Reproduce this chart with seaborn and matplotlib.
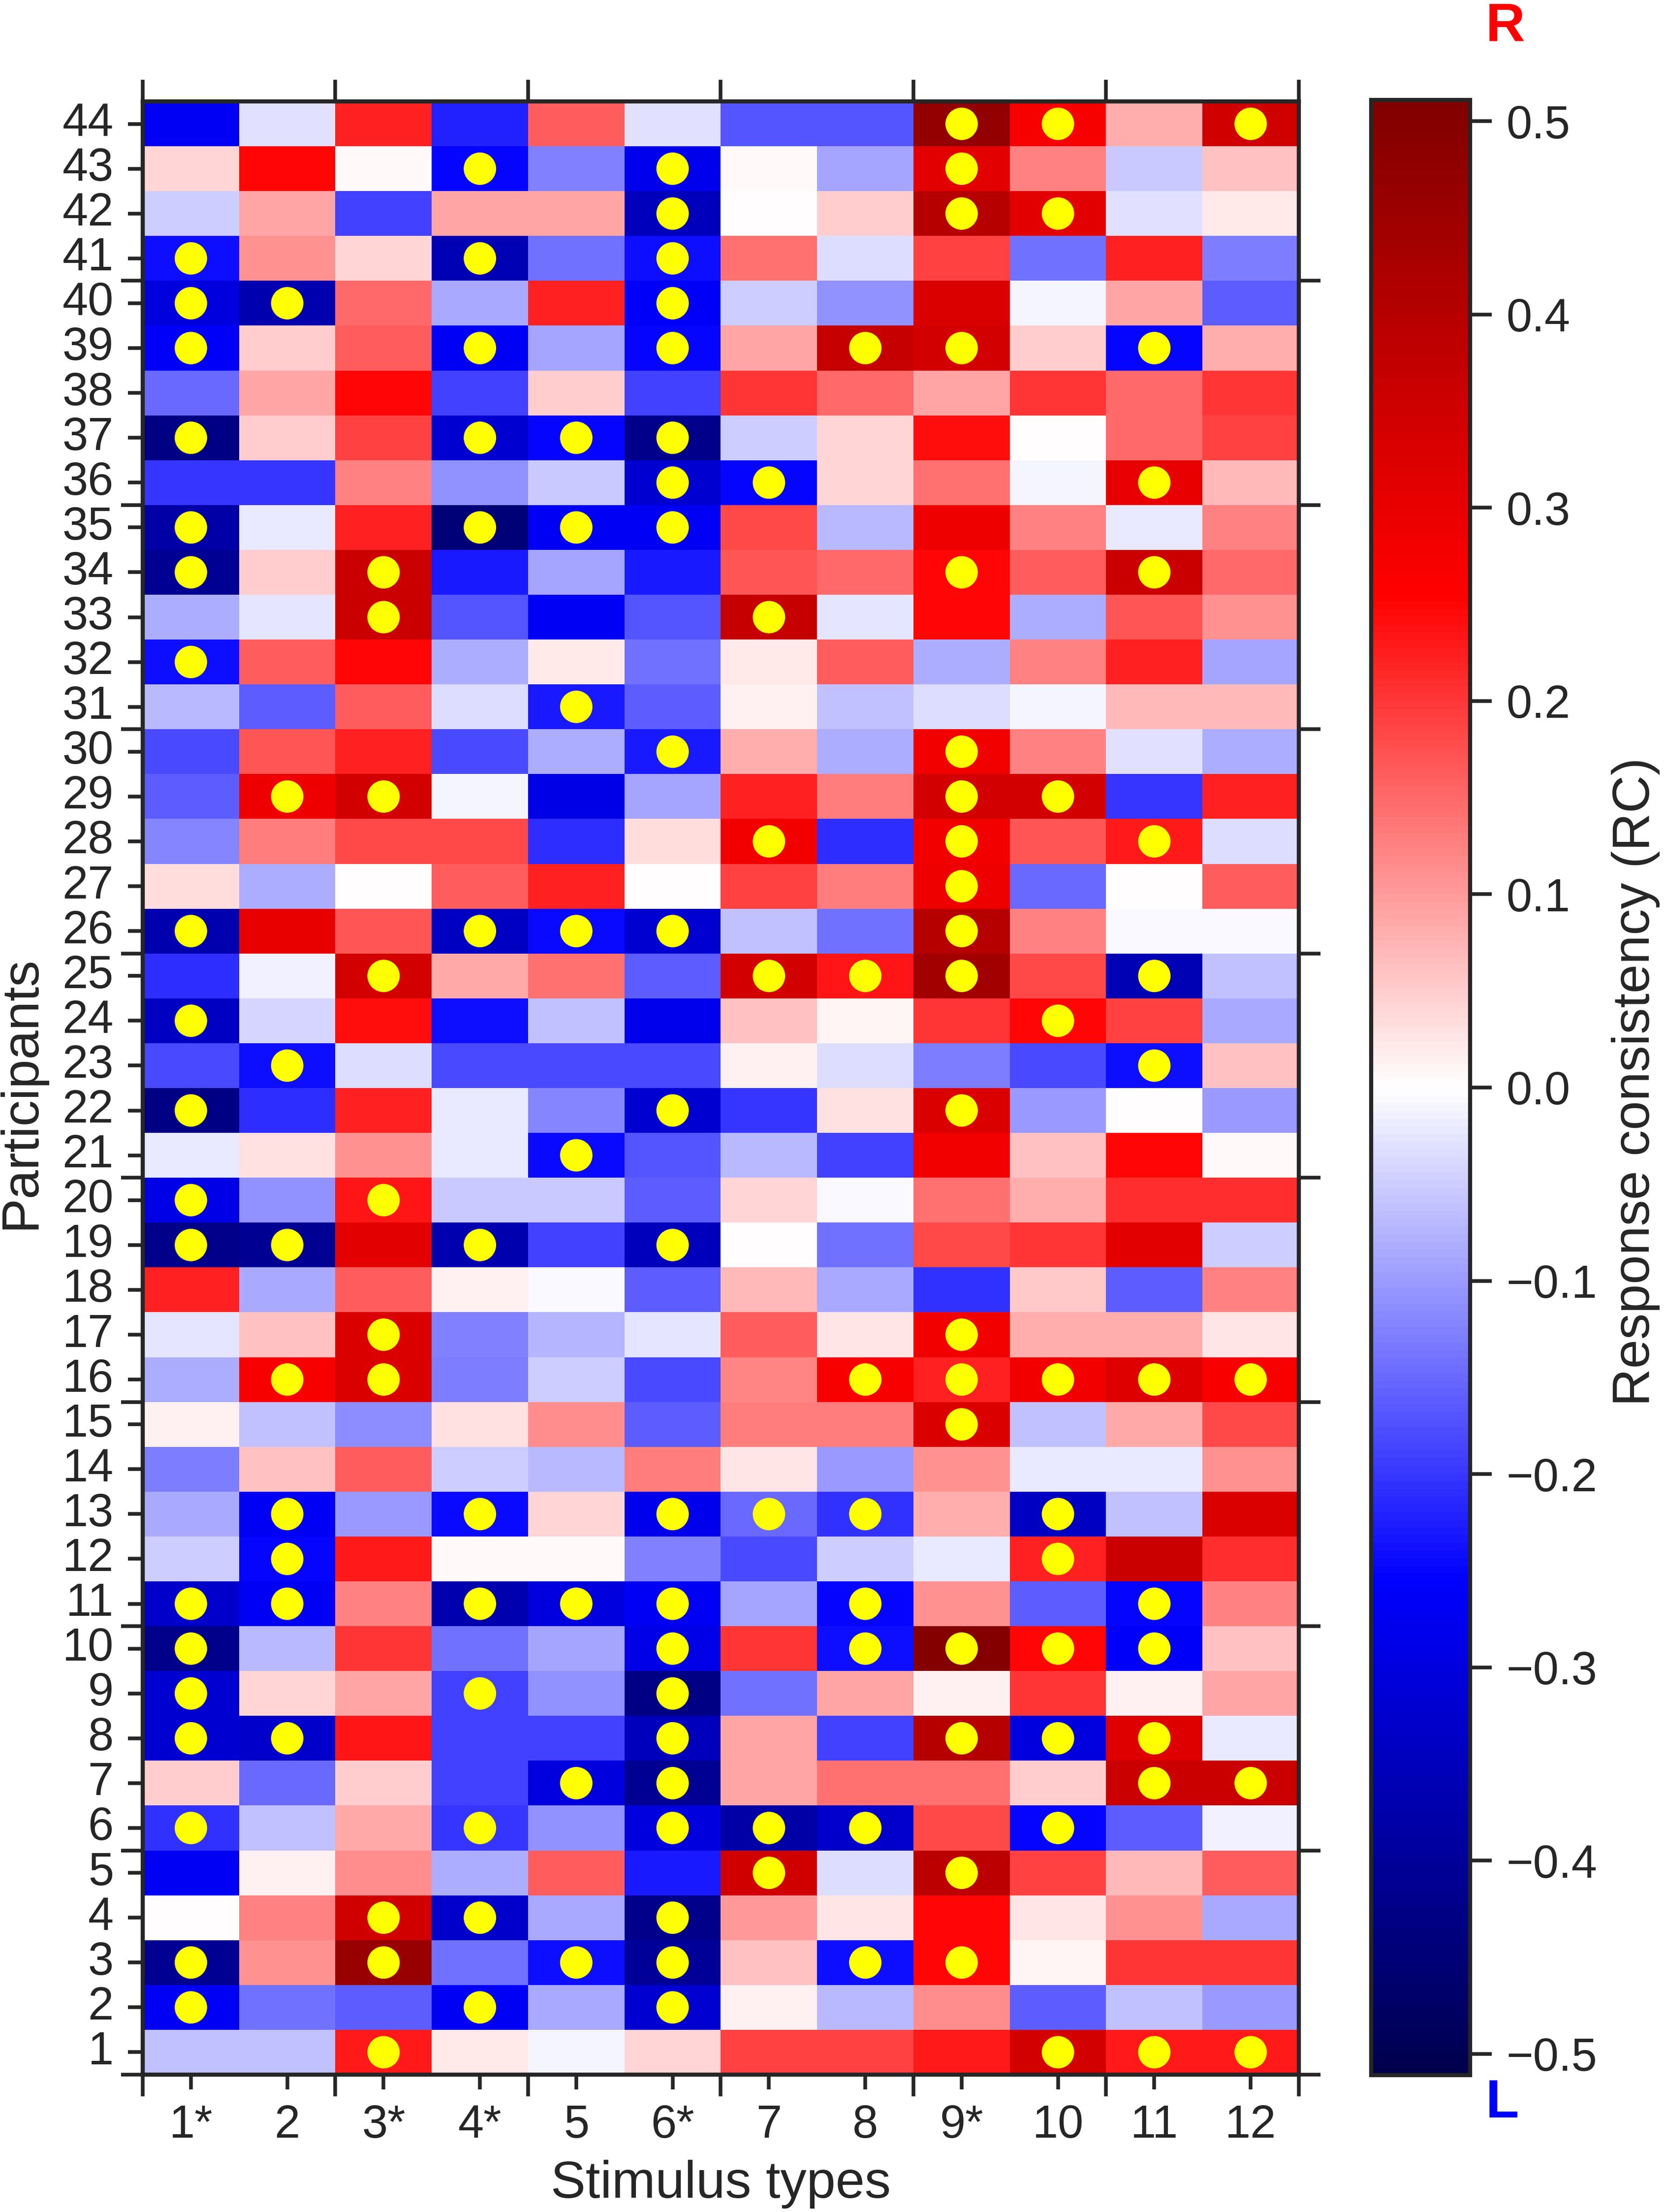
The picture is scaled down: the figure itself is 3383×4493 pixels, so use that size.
import numpy as np
import pandas as pd
import seaborn as sns
import matplotlib.pyplot as plt

# stimulus types (columns) and participants (rows)
stimulus_types = ["1*", "2", "3*", "4*", "5", "6*", "7", "8", "9*", "10", "11", "12"]
participants = list(range(1, 45))

# response consistency per stimulus type, participant 1 -> 44
rc_s1 = [-0.06, -0.27, -0.41, 0.0, -0.27, -0.205, 0.05, -0.32, -0.32, -0.42, -0.33,
         -0.05, -0.085, -0.13, 0.015, -0.08, -0.025, 0.22, -0.42, -0.29, -0.02, -0.43,
         -0.18, -0.34, -0.21, -0.37, 0.035, -0.12, -0.16, -0.18, -0.07, -0.24, -0.08,
         -0.41, -0.38, -0.2, -0.43, -0.15, -0.26, -0.3, -0.24, -0.05, 0.04, -0.27]
rc_s2 = [-0.06, -0.14, 0.11, 0.125, 0.015, -0.06, -0.15, -0.33, 0.04, -0.07, -0.27,
         -0.25, -0.27, 0.06, -0.06, 0.27, 0.06, -0.085, -0.41, -0.11, 0.03, -0.21,
         -0.24, -0.04, -0.015, 0.3, -0.08, 0.13, 0.29, 0.17, -0.16, 0.16, -0.025,
         0.05, -0.02, -0.2, 0.05, 0.09, 0.05, -0.37, 0.11, 0.09, 0.25, -0.03]
rc_s3 = [0.23, -0.16, 0.46, 0.35, 0.115, 0.085, 0.05, 0.235, 0.09, 0.2, 0.125,
         0.23, -0.1, 0.16, -0.115, 0.33, 0.33, 0.16, 0.31, 0.235, 0.11, 0.22,
         -0.035, 0.24, 0.34, 0.17, 0.0, 0.18, 0.34, 0.22, 0.16, 0.25, 0.36,
         0.36, 0.22, 0.125, 0.19, 0.25, 0.16, 0.15, 0.04, -0.19, 0.005, 0.22]
rc_s4 = [0.02, -0.27, -0.14, -0.33, -0.08, -0.2, -0.19, -0.19, -0.19, -0.14, -0.37,
         0.005, -0.245, -0.05, 0.03, -0.13, -0.125, 0.015, -0.37, -0.055, -0.02, -0.02,
         -0.18, -0.24, 0.085, -0.34, 0.16, 0.18, -0.01, -0.18, -0.035, -0.08, -0.17,
         -0.23, -0.45, -0.11, -0.32, -0.19, -0.27, -0.085, -0.36, 0.09, -0.25, -0.22]
rc_s5 = [-0.01, -0.085, -0.24, -0.085, 0.16, -0.11, -0.3, -0.19, -0.11, -0.09, -0.3,
         0.005, 0.04, -0.07, 0.115, -0.05, -0.075, -0.005, -0.19, -0.055, -0.245, -0.12,
         -0.18, -0.06, 0.14, -0.245, 0.22, -0.21, -0.29, -0.08, -0.23, 0.02, -0.27,
         -0.09, -0.27, -0.055, -0.25, 0.05, -0.09, 0.22, -0.14, 0.09, -0.125, 0.16]
rc_s6 = [0.04, -0.32, -0.4, -0.42, -0.23, -0.3, -0.41, -0.35, -0.43, -0.29, -0.27,
         -0.125, -0.28, 0.13, -0.16, -0.18, -0.025, -0.16, -0.35, -0.16, -0.17, -0.32,
         -0.18, -0.28, -0.16, -0.32, 0.0, 0.035, -0.09, -0.23, -0.16, -0.14, -0.17,
         -0.23, -0.27, -0.32, -0.42, -0.19, -0.25, -0.26, -0.24, -0.35, -0.28, -0.03]
rc_s7 = [0.19, 0.015, 0.06, 0.1, 0.35, -0.38, 0.09, 0.09, -0.14, 0.2, -0.09,
         -0.18, -0.15, 0.025, 0.13, 0.12, 0.16, 0.07, 0.0, 0.04, -0.07, -0.2,
         0.015, 0.06, 0.34, -0.06, 0.19, 0.28, 0.22, 0.08, 0.015, 0.02, 0.37,
         0.17, 0.18, -0.25, -0.05, 0.2, 0.09, -0.05, 0.14, 0.0, 0.005, -0.17]
rc_s8 = [0.19, -0.07, -0.24, 0.025, -0.035, -0.33, 0.14, -0.19, 0.09, -0.24, -0.25,
         -0.05, -0.205, -0.1, 0.13, 0.27, 0.025, -0.085, -0.14, -0.005, -0.19, 0.03,
         -0.035, 0.01, 0.235, -0.14, 0.13, -0.21, 0.13, -0.08, -0.06, 0.16, -0.025,
         0.15, -0.07, 0.04, 0.04, 0.15, 0.37, -0.11, -0.035, 0.05, -0.09, -0.17]
rc_s9 = [0.23, 0.115, 0.25, 0.25, 0.39, 0.18, 0.14, 0.4, 0.015, 0.5, 0.11,
         -0.02, 0.08, 0.11, 0.33, 0.22, 0.28, -0.205, 0.18, 0.14, 0.28, 0.33,
         -0.13, 0.2, 0.44, 0.4, 0.29, 0.28, 0.34, 0.28, -0.035, -0.08, 0.25,
         0.25, 0.29, 0.14, 0.24, 0.09, 0.34, 0.33, 0.19, 0.4, 0.31, 0.47]
rc_s10 = [0.34, -0.16, 0.01, 0.025, 0.19, -0.25, 0.05, -0.3, 0.2, 0.25, -0.16,
          0.22, -0.34, -0.02, -0.06, 0.28, 0.08, 0.055, 0.2, 0.08, 0.06, -0.1,
          -0.18, 0.25, 0.18, 0.125, -0.15, 0.17, 0.34, 0.125, -0.01, 0.125, -0.08,
          0.16, 0.125, -0.01, 0.0, 0.2, 0.05, -0.01, -0.14, 0.31, 0.125, 0.27]
rc_s11 = [0.23, -0.06, 0.2, 0.11, 0.07, -0.16, 0.36, 0.32, 0.015, -0.26, -0.25,
          0.36, -0.06, -0.02, 0.085, 0.32, 0.08, -0.16, 0.31, 0.21, 0.25, 0.0,
          -0.24, 0.19, -0.36, -0.005, 0.0, 0.23, -0.2, -0.03, 0.07, 0.22, 0.17,
          0.36, -0.02, 0.3, 0.15, 0.15, -0.25, 0.09, 0.22, -0.03, -0.055, 0.08]
rc_s12 = [0.23, -0.1, 0.2, -0.085, 0.16, -0.015, 0.36, -0.02, 0.09, 0.06, 0.125,
          0.21, 0.33, 0.11, 0.18, 0.27, 0.025, 0.125, -0.05, 0.21, 0.005, -0.1,
          0.06, -0.085, -0.06, -0.005, 0.16, -0.035, 0.22, -0.08, 0.07, -0.09, 0.11,
          0.15, 0.125, 0.07, 0.19, 0.2, 0.08, -0.16, -0.13, 0.02, 0.06, 0.35]

# participants with a significant response (yellow dots) per stimulus type
sig_s1 = [2, 3, 6, 8, 9, 10, 11, 19, 20, 22, 24, 26, 32, 34, 35, 37, 39, 40, 41]
sig_s2 = [8, 11, 12, 13, 16, 19, 23, 29, 40]
sig_s3 = [1, 3, 4, 16, 17, 20, 25, 29, 33, 34]
sig_s4 = [2, 4, 6, 9, 11, 13, 19, 26, 35, 37, 39, 41, 43]
sig_s5 = [3, 7, 11, 21, 26, 31, 35, 37]
sig_s6 = [2, 3, 4, 6, 7, 8, 9, 10, 11, 13, 19, 22, 26, 30, 35, 36, 37, 39, 40, 41, 42, 43]
sig_s7 = [5, 6, 13, 25, 28, 33, 36]
sig_s8 = [3, 6, 10, 11, 13, 16, 25, 39]
sig_s9 = [3, 5, 8, 10, 15, 16, 17, 22, 25, 26, 27, 28, 29, 30, 34, 39, 42, 43, 44]
sig_s10 = [1, 6, 8, 10, 12, 13, 16, 24, 29, 42, 44]
sig_s11 = [1, 7, 8, 10, 11, 16, 23, 25, 28, 34, 36, 39]
sig_s12 = [1, 7, 16, 44]

rc_cols = [rc_s1, rc_s2, rc_s3, rc_s4, rc_s5, rc_s6, rc_s7, rc_s8, rc_s9, rc_s10, rc_s11, rc_s12]
sig_cols = [sig_s1, sig_s2, sig_s3, sig_s4, sig_s5, sig_s6, sig_s7, sig_s8, sig_s9, sig_s10,
            sig_s11, sig_s12]

sns.set_style("ticks")
plt.rcParams["font.family"] = ["Liberation Sans", "DejaVu Sans"]

data = pd.DataFrame(np.array(rc_cols).T, index=participants, columns=stimulus_types)
data = data.iloc[::-1]  # participant 44 at the top

W, H = 3383, 4493
fig = plt.figure(figsize=(W / 300, H / 300), dpi=300)
ax = fig.add_axes([290 / W, 1 - 4214 / H, (2639 - 290) / W, (4214 - 206) / H])
cax = fig.add_axes([2786 / W, 1 - 4215 / H, (2987 - 2786) / W, (4215 - 203) / H])

sns.heatmap(data, ax=ax, cbar_ax=cax, cmap="seismic", vmin=-0.511, vmax=0.511,
            xticklabels=True, yticklabels=True)

# yellow dots on significant cells
xs, ys = [], []
for s, sig in zip(stimulus_types, sig_cols):
    for p in sig:
        xs.append(data.columns.get_loc(s) + 0.5)
        ys.append(data.index.get_loc(p) + 0.5)
ax.scatter(xs, ys, s=250, color="#ffff00", edgecolors="none", zorder=3)

# ticks
ax.set_xticks(np.arange(len(stimulus_types)) + 0.5)
ax.set_xticklabels(stimulus_types, rotation=0)
ax.set_xticks(np.arange(0, 13, 2), minor=True)
ax.set_yticks(np.arange(len(data)) + 0.5)
ax.set_yticklabels(data.index, rotation=0)
ax.set_yticks([len(data) - k for k in range(0, 41, 5)], minor=True)
ax.tick_params(which="major", length=7.2, width=1.8, pad=7, labelsize=22.5,
               bottom=True, left=True, top=False, right=False, direction="out")
ax.tick_params(which="minor", length=10.5, width=1.8,
               bottom=True, top=True, left=True, right=True, direction="out")
ax.set_xlabel("")
ax.set_ylabel("")
for sp in ax.spines.values():
    sp.set_visible(True)
    sp.set_linewidth(2)
    sp.set_color(".15")

# colorbar
cbar = ax.collections[0].colorbar
cbar.outline.set_visible(True)
cbar.outline.set_linewidth(2)
cbar.outline.set_edgecolor(".15")
cbar.set_ticks(np.round(np.arange(-0.5, 0.51, 0.1), 1))
cax.tick_params(length=10.5, width=1.8, pad=7, labelsize=22.5)

fig.text(0.4329, 0.0065, "Stimulus types", fontsize=25.5, ha="center", va="baseline")
fig.text(0.0127, 0.506, "Participants", fontsize=25.5, rotation=90, ha="center", va="center")
fig.text(0.9823, 0.511, "Response consistency (RC)", fontsize=25.5, rotation=90,
         ha="center", va="center")
fig.text(0.9042, 0.9815, "R", color="#ff0000", fontsize=26.5, fontweight="bold",
         ha="center", va="baseline")
fig.text(0.9022, 0.0427, "L", color="#0000ff", fontsize=26.5, fontweight="bold",
         ha="center", va="baseline")

fig.savefig("out.png", dpi=300)
